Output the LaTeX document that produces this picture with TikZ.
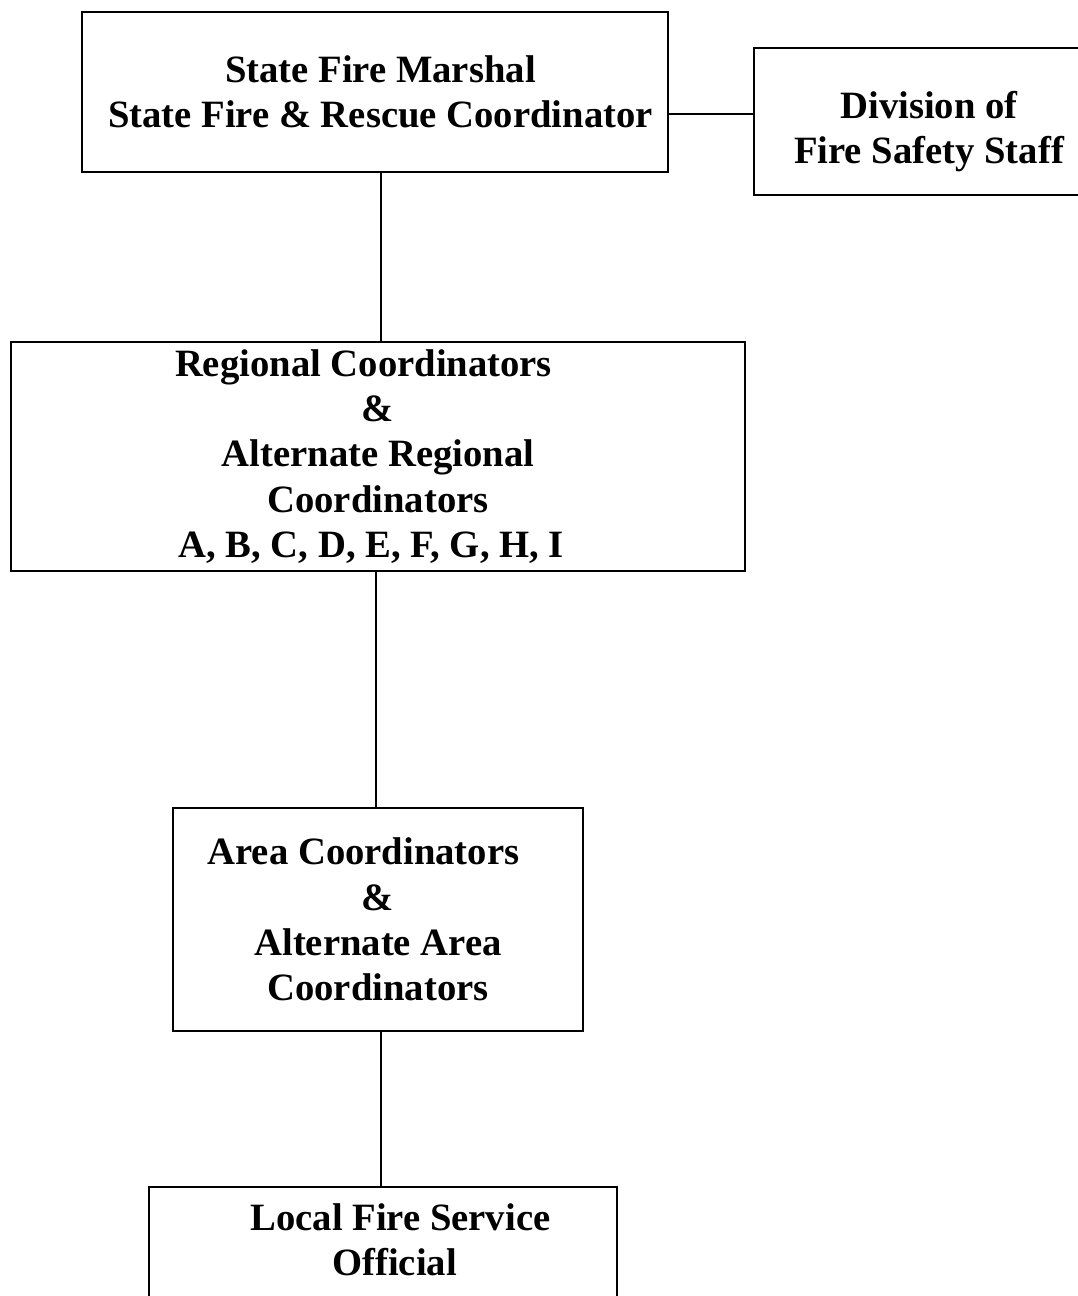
\documentclass[tikz,border=0pt]{standalone}
\usepackage{fontspec}
\setmainfont{Liberation Serif}
\usepackage{tikz}
\usetikzlibrary{positioning}
\tikzstyle{office}=[draw, line width=1.1pt, align=center, inner sep=0pt, font=\bfseries\fontsize{29pt}{34pt}\selectfont]

\begin{document}
\begin{tikzpicture}[x=0.75pt,y=-0.75pt,line width=1.1pt]
    \useasboundingbox (0,0) rectangle (1078,1296);
    \node [office, minimum width=439.5pt, minimum height=120pt] (marshal) at (375,92) {\hspace*{0.28em}State Fire Marshal\\\hspace*{0.28em}State Fire \& Rescue Coordinator};
    \node [office, minimum width=262.5pt, minimum height=110.25pt] (staff) at (929,121.5) {Division of\\Fire Safety Staff\\[-43pt]};
    \node [office, minimum width=550.5pt, minimum height=171.75pt] (regional) at (378,456.5) {Regional Coordinators\hspace*{0.75em}\\\&\\Alternate Regional\\Coordinators\\A, B, C, D, E, F, G, H, I\hspace*{0.35em}};
    \node [office, minimum width=307.5pt, minimum height=167.25pt] (area) at (378,919.5) {Area Coordinators\hspace*{0.75em}\\\&\\Alternate Area\\Coordinators};
    \node [office, minimum width=351pt, minimum height=84.75pt] (local) at (383,1243.5) {\hspace*{0.9em}Local Fire Service\\\hspace*{0.6em}Official\\[-28pt]};
    \draw ([yshift=-16.5pt]marshal.east) -- ([yshift=-16.5pt]marshal.east -| staff.west);
    \draw ([xshift=4.5pt]marshal.south) -- ([xshift=4.5pt]marshal.south |- regional.north);
    \draw ([xshift=-1.5pt]regional.south) -- ([xshift=-1.5pt]regional.south |- area.north);
    \draw ([xshift=2.25pt]area.south) -- ([xshift=2.25pt]area.south |- local.north);
\end{tikzpicture}
\end{document}
